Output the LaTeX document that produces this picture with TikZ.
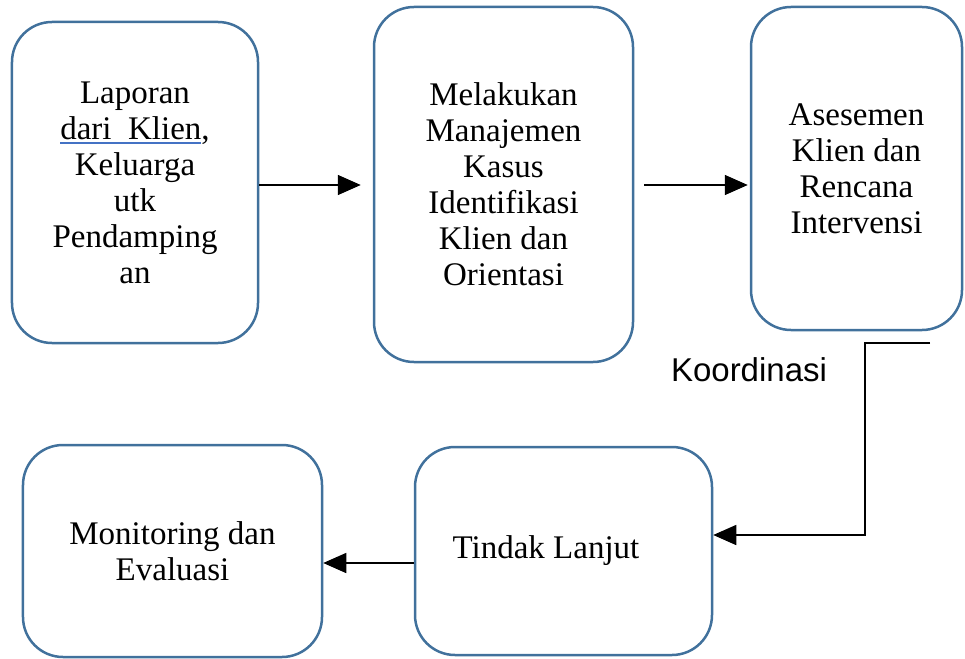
\documentclass[tikz,border=0pt]{standalone}
\usepackage{fontspec}
\setmainfont{Liberation Serif}
\newfontfamily\kfont{Liberation Sans}
\usetikzlibrary{arrows.meta}
\definecolor{boxblue}{RGB}{65,113,156}
\definecolor{ulblue}{RGB}{68,114,196}
\newcommand\blueul[1]{\setbox0\hbox{#1}\rlap{\color{ulblue}\rule[-4.5bp]{\wd0}{2bp}}\box0}
\tikzset{
  box/.style={draw=boxblue, line width=2.5bp, rounded corners=40bp, align=center,
    font=\fontsize{33bp}{36bp}\selectfont, inner sep=0pt},
  txt/.style={align=center, font=\fontsize{33bp}{36bp}\selectfont, inner sep=0pt},
  conn/.style={line width=1.5bp, -{Triangle[length=23bp,width=20bp]}}
}
\begin{document}
\begin{tikzpicture}[x=1bp,y=-1bp]
\useasboundingbox (0,0) rectangle (965,659);
\node[box, minimum width=246bp, minimum height=321bp] (b1) at (135,182.5)
  {Laporan\\\blueul{dari~~Klien},\\Keluarga\\utk\\Pendamping\\an};
\node[box, minimum width=259bp, minimum height=355bp] (b2) at (503.5,184.5)
  {Melakukan\\Manajemen\\Kasus\\Identifikasi\\Klien dan\\Orientasi};
\node[box, minimum width=211bp, minimum height=323bp] (b3) at (856.5,168.5)
  {Asesemen\\Klien dan\\Rencana\\Intervensi};
\node[box, minimum width=297bp, minimum height=208bp] (t) at (563.5,551) {};
\node[txt] (tl) at (546,551) {Tindak Lanjut};
\node[box, minimum width=299bp, minimum height=212bp] (m) at (172.5,551)
  {Monitoring dan\\Evaluasi};
\node[inner sep=0pt, font=\kfont\fontsize{33bp}{36bp}\selectfont] (k) at (749,370) {Koordinasi};
\coordinate (k0) at (930,343);
\draw[conn, shorten >=12bp] (b1.east |- 0,185) -- (b2.west |- 0,185);
\draw[conn, shorten <=10bp, shorten >=2bp] (b2.east |- 0,185) -- (b3.west |- 0,185);
\draw[conn] (k0) -- (865,343) |- (t.east |- 0,535);
\draw[conn] (t.west |- 0,563) -- (m.east |- 0,563);
\end{tikzpicture}
\end{document}
